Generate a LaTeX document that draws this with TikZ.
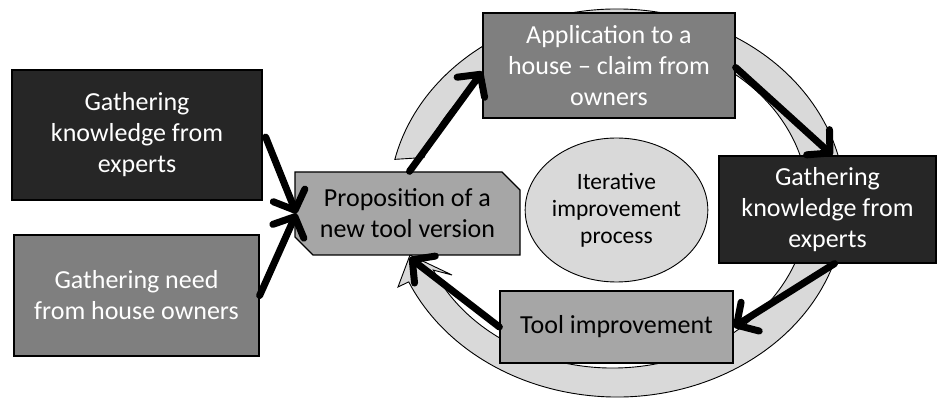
\documentclass[tikz,border=0pt]{standalone}
\usepackage{fontspec}
\setmainfont{Carlito}
\usetikzlibrary{arrows.meta,shapes.geometric,shapes.misc,calc}
\definecolor{dk}{HTML}{262626}
\definecolor{md}{HTML}{7F7F7F}
\definecolor{lt}{HTML}{A6A6A6}
\definecolor{pale}{HTML}{D9D9D9}
\begin{document}
\begin{tikzpicture}[x=1pt,y=1pt,
  box/.style={draw=black, line width=1.3pt, inner sep=0pt, align=center, font=\fontsize{26}{31}\selectfont},
  darkbox/.style={box, fill=dk, text=white},
  midbox/.style={box, fill=md, text=white},
  lightbox/.style={box, fill=lt, text=black},
  conn/.style={line width=7pt, line cap=round, -{Straight Barb[length=16pt,width=34pt,line cap=round,line join=round]}},
  ring/.style={fill=pale, draw=black, line width=0.9pt, line join=miter}
]
\useasboundingbox (0,0) rectangle (938,399);
% circular arrow
\coordinate (c) at (617,196);
\draw[ring] ($(c)+(167:228 and 194)$) arc[start angle=167, end angle=-156, x radius=228, y radius=194]
  -- (398,112) -- (410,144) -- (452,124)
  -- ($(c)+(-156:201 and 165)$) arc[start angle=-156, end angle=164, x radius=196, y radius=165] -- cycle;
% nodes
\node[darkbox, minimum width=250, minimum height=130] (lt) at (137,264) {Gathering\\knowledge from\\experts};
\node[midbox, minimum width=245, minimum height=121] (lb) at (136.5,103.5) {Gathering need\\from house owners};
\node[lightbox, chamfered rectangle, chamfered rectangle corners={north east, south west}, chamfered rectangle xsep=9, chamfered rectangle ysep=9, minimum width=225, minimum height=83] (prop) at (407.5,185.5) {Proposition of a\\new tool version};
\node[midbox, minimum width=252, minimum height=105] (app) at (609,333.5) {Application to a\\house – claim from\\owners};
\node[darkbox, minimum width=217, minimum height=107] (rt) at (827.5,189.5) {Gathering\\knowledge from\\experts};
\node[lightbox, minimum width=233, minimum height=72] (tool) at (616.5,72) {Tool improvement};
\node[ellipse, draw=black, line width=0.9pt, fill=pale, minimum width=163, minimum height=144, inner sep=0pt, align=center, font=\fontsize{23.5}{27}\selectfont] (it) at (616.5,189) {Iterative\\improvement\\process};
% connectors
\draw[conn] ([xshift=3,yshift=-2]lt.east) -- ([xshift=2]prop.west);
\draw[conn] (lb.east) -- ([xshift=2]prop.west);
\draw[conn] ([xshift=2]prop.north) -- ([yshift=-6]app.west);
\draw[conn] ([yshift=-2]app.east) -- ([xshift=5]rt.north);
\draw[conn] ([xshift=7]rt.south) -- (tool.east);
\draw[conn] (tool.west) -- ([xshift=2,yshift=-2]prop.south);
\end{tikzpicture}
\end{document}
